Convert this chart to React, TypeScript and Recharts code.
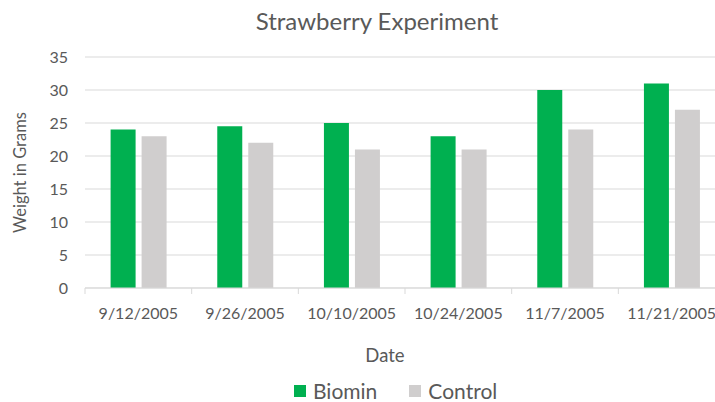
import { Bar, BarChart, CartesianGrid, Legend, XAxis, YAxis } from "recharts";

const dates = ["9/12/2005", "9/26/2005", "10/10/2005", "10/24/2005", "11/7/2005", "11/21/2005"];
const biomin = [24, 24.5, 25, 23, 30, 31];
const control = [23, 22, 21, 21, 24, 27];
const yTicks = [0, 5, 10, 15, 20, 25, 30, 35];

const GREEN = "#00b050";
const GREY = "#d0cece";
const TEXT = "#595959";
const LINE = "#d9d9d9";
const FONT = "Lato, 'Noto Sans', sans-serif";
const TICK_MARGIN = 20;

const data = dates.map((date, i) => ({ date, Biomin: biomin[i], Control: control[i] }));

// category label plus a small tick mark on the band's left edge (Excel style)
function DateTick(props: any) {
  const { x, y, payload, width, visibleTicksCount, index } = props;
  const half = width / visibleTicksCount / 2;
  const axisY = y - TICK_MARGIN;
  return (
    <g>
      <line x1={x - half} x2={x - half} y1={axisY} y2={axisY + 6} stroke={LINE} />
      {index === visibleTicksCount - 1 && (
        <line x1={x + half} x2={x + half} y1={axisY} y2={axisY + 6} stroke={LINE} />
      )}
      <text x={x} y={y} dy="0.71em" textAnchor="middle" fill={TEXT} fontSize={16}>
        {payload.value}
      </text>
    </g>
  );
}

function LegendContent({ payload }: { payload?: { value: string; color: string }[] }) {
  return (
    <div
      style={{
        display: "flex",
        justifyContent: "flex-start",
        paddingLeft: 294,
        paddingTop: 2,
        gap: 32,
        fontFamily: FONT,
        lineHeight: "20px",
      }}
    >
      {(payload ?? []).map((p) => (
        <span key={p.value} style={{ display: "inline-flex", alignItems: "center", gap: 7, fontSize: 21, color: TEXT }}>
          <span style={{ width: 12, height: 12, background: p.color, display: "inline-block" }} />
          {p.value}
        </span>
      ))}
    </div>
  );
}

export default function App() {
  return (
    <div style={{ position: "absolute", left: 0, top: 0, width: 715, height: 402, overflow: "hidden", background: "#fff" }}>
      <div
        style={{
          position: "absolute",
          top: 6,
          left: 0,
          width: 754,
          textAlign: "center",
          fontFamily: FONT,
          fontSize: 24,
          color: TEXT,
        }}
      >
        Strawberry Experiment
      </div>
      <BarChart
        width={725}
        height={402}
        data={data}
        margin={{ top: 57, right: 0, left: 0, bottom: 0 }}
        barCategoryGap="24%"
        barGap={6}
        style={{ fontFamily: FONT }}
      >
        <CartesianGrid horizontal vertical={false} stroke={LINE} strokeWidth={1} />
        <XAxis
          dataKey="date"
          axisLine={{ stroke: LINE }}
          tickLine={false}
          tickSize={0}
          tickMargin={TICK_MARGIN}
          height={91}
          tick={<DateTick />}
          interval={0}
          label={{ value: "Date", position: "insideBottom", offset: 17, dx: -20, fill: TEXT, fontSize: 18.5 }}
        />
        <YAxis
          domain={[0, 35]}
          ticks={yTicks}
          width={85}
          axisLine={false}
          tickLine={false}
          tickSize={6}
          tickMargin={11}
          tick={{ fill: TEXT, fontSize: 16 }}
          label={{
            value: "Weight in Grams",
            angle: -90,
            position: "insideLeft",
            offset: 20,
            style: { textAnchor: "middle", fill: TEXT, fontSize: 16.5 },
          }}
        />
        <Legend verticalAlign="bottom" height={23} content={<LegendContent />} />
        <Bar dataKey="Biomin" fill={GREEN} isAnimationActive={false} />
        <Bar dataKey="Control" fill={GREY} isAnimationActive={false} />
      </BarChart>
    </div>
  );
}
